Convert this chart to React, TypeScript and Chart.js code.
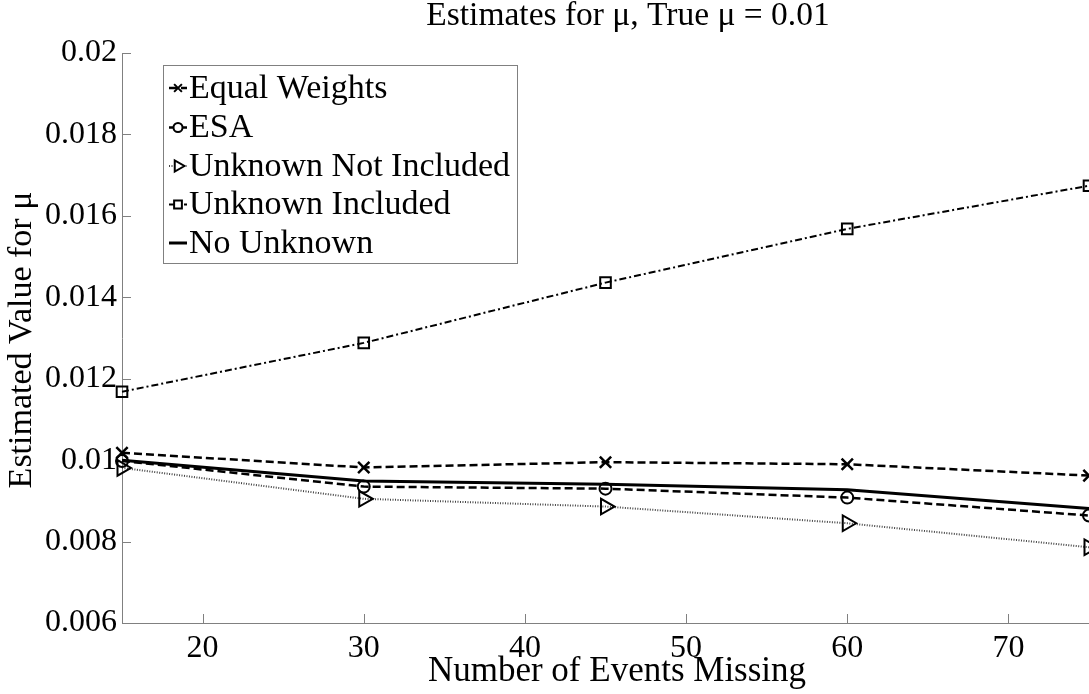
import React, { useEffect, useRef } from 'react';
import { Chart, registerables } from 'chart.js';
import { drawPoint } from 'chart.js/helpers';

Chart.register(...registerables);

const FONT = "'Liberation Serif', 'DejaVu Serif', 'Times New Roman', serif";

const titleText = 'Estimates for \u03bc, True \u03bc = 0.01';
const xTitleText = 'Number of Events Missing';
const yTitleText = 'Estimated Value for \u03bc';

const xValues = [15, 30, 45, 60, 75];
const equalWeights = [0.01018, 0.00982, 0.00995, 0.0099, 0.00962];
const esa = [0.00998, 0.00935, 0.0093, 0.00908, 0.00864];
const unknownNotIncluded = [0.00981, 0.00905, 0.00886, 0.00845, 0.00786];
const unknownIncluded = [0.01168, 0.01288, 0.01436, 0.01568, 0.01674];
const noUnknown = [0.01, 0.00949, 0.00941, 0.00927, 0.00881];

const seriesNames = ['Equal Weights', 'ESA', 'Unknown Not Included', 'Unknown Included', 'No Unknown'];

const xTickValues = [20, 30, 40, 50, 60, 70];
const xTickLabels = ['20', '30', '40', '50', '60', '70'];
const yTickValues = [0.006, 0.008, 0.01, 0.012, 0.014, 0.016, 0.018, 0.02];
const yTickLabels = ['0.006', '0.008', '0.01', '0.012', '0.014', '0.016', '0.018', '0.02'];

const AXIS_COLOR = '#808080';

function pts(ys: number[]) {
  return xValues.map((x, i) => ({ x, y: ys[i] }));
}

const legendMarker: Record<string, number> = { crossRot: 5.5, circle: 4.5, triangle: 6.5, rect: 5.5 };

const decorPlugin = {
  id: 'decor',
  beforeDatasetsDraw(chart: any) {
    const ctx = chart.ctx;
    const xs = chart.scales.x;
    const ys = chart.scales.y;
    const area = chart.chartArea;
    ctx.save();
    ctx.strokeStyle = AXIS_COLOR;
    ctx.lineWidth = 1;
    ctx.beginPath();
    xTickValues.forEach((v) => {
      const px = Math.round(xs.getPixelForValue(v)) + 0.5;
      ctx.moveTo(px, area.bottom);
      ctx.lineTo(px, area.bottom - 9);
    });
    yTickValues.forEach((v) => {
      const py = Math.round(ys.getPixelForValue(v)) + 0.5;
      ctx.moveTo(area.left, py);
      ctx.lineTo(area.left + 9, py);
    });
    ctx.stroke();
    ctx.restore();
  },
  afterDraw(chart: any) {
    const ctx = chart.ctx;
    ctx.save();
    ctx.fillStyle = '#000';
    ctx.textAlign = 'center';
    ctx.textBaseline = 'middle';
    ctx.font = `33.5px ${FONT}`;
    ctx.fillText(titleText, 628, 16);
    ctx.font = `35px ${FONT}`;
    ctx.fillText(xTitleText, 617, 672);
    ctx.font = `34px ${FONT}`;
    ctx.save();
    ctx.translate(22, 340);
    ctx.rotate(-Math.PI / 2);
    ctx.fillText(yTitleText, 0, 0);
    ctx.restore();

    // legend
    const bx = 163.5, by = 65.5, bw = 354, bh = 198;
    ctx.fillStyle = '#fff';
    ctx.fillRect(bx, by, bw, bh);
    ctx.strokeStyle = AXIS_COLOR;
    ctx.lineWidth = 1;
    ctx.strokeRect(bx, by, bw, bh);
    const rows = [88, 127.5, 166, 204.5, 243];
    chart.data.datasets.forEach((ds: any, i: number) => {
      const y = rows[i];
      ctx.save();
      ctx.strokeStyle = ds.borderColor || '#000';
      ctx.lineWidth = ds.borderWidth;
      ctx.setLineDash(ds.borderDash || []);
      ctx.beginPath();
      ctx.moveTo(169, y);
      ctx.lineTo(187, y);
      ctx.stroke();
      ctx.setLineDash([]);
      if (ds.pointRadius > 0) {
        ctx.fillStyle = '#fff';
        ctx.strokeStyle = '#000';
        ctx.lineWidth = 2;
        drawPoint(ctx, {
          pointStyle: ds.pointStyle,
          rotation: ds.pointRotation || 0,
          radius: legendMarker[ds.pointStyle] || 5,
          borderWidth: 2,
        } as any, 178, y);
      }
      ctx.restore();
      ctx.fillStyle = '#000';
      ctx.textAlign = 'left';
      ctx.textBaseline = 'middle';
      ctx.font = `34px ${FONT}`;
      ctx.fillText(seriesNames[i], 189, y + 1);
    });
    ctx.restore();
  },
};

export default function App() {
  const ref = useRef<HTMLCanvasElement | null>(null);
  useEffect(() => {
    if (!ref.current) return;
    const common = {
      borderColor: '#000',
      pointBorderColor: '#000',
      pointBackgroundColor: 'rgba(0,0,0,0)',
      pointBorderWidth: 2,
      tension: 0,
      clip: false as any,
    };
    const chart = new Chart(ref.current, {
      type: 'line',
      data: {
        datasets: [
          { ...common, label: seriesNames[0], data: pts(equalWeights), borderWidth: 2.5, borderDash: [8, 4], pointStyle: 'crossRot', pointRadius: 8, pointBorderWidth: 2.5 },
          { ...common, label: seriesNames[1], data: pts(esa), borderWidth: 2.5, borderDash: [8, 4], pointStyle: 'circle', pointRadius: 6 },
          { ...common, label: seriesNames[2], data: pts(unknownNotIncluded), borderWidth: 2, borderDash: [1, 1.5], borderColor: '#444', pointStyle: 'triangle', pointRotation: 90, pointRadius: 9 },
          { ...common, label: seriesNames[3], data: pts(unknownIncluded), borderWidth: 2, borderDash: [7, 3, 2, 3], pointStyle: 'rect', pointRadius: 7.5 },
          { ...common, label: seriesNames[4], data: pts(noUnknown), borderWidth: 3, borderDash: [], pointStyle: 'circle', pointRadius: 0 },
        ] as any,
      },
      options: {
        responsive: false,
        animation: false,
        devicePixelRatio: 1,
        layout: { padding: { top: 53, right: 51, left: 0, bottom: 0 } },
        plugins: {
          legend: { display: false },
          title: { display: false },
          tooltip: { enabled: false },
        },
        scales: {
          x: {
            type: 'linear',
            min: 15,
            max: 75,
            afterBuildTicks: (s: any) => {
              s.ticks = xTickValues.map((v) => ({ value: v }));
            },
            afterFit: (s: any) => {
              s.height = 71;
            },
            grid: { display: false, drawTicks: false },
            border: { display: true, color: AXIS_COLOR, width: 1 },
            ticks: {
              font: { family: FONT, size: 32 },
              color: '#000',
              padding: 6,
              maxRotation: 0,
              autoSkip: false,
              callback: (v: any) => {
                const i = xTickValues.indexOf(Number(v));
                return i >= 0 ? xTickLabels[i] : '';
              },
            },
          },
          y: {
            type: 'linear',
            min: 0.006,
            max: 0.02,
            afterBuildTicks: (s: any) => {
              s.ticks = yTickValues.map((v) => ({ value: v }));
            },
            afterFit: (s: any) => {
              s.width = 122;
            },
            grid: { display: false, drawTicks: false },
            border: { display: true, color: AXIS_COLOR, width: 1 },
            ticks: {
              font: { family: FONT, size: 32 },
              color: '#000',
              padding: 5,
              autoSkip: false,
              callback: (v: any) => {
                let best = 0;
                yTickValues.forEach((t, i) => {
                  if (Math.abs(t - Number(v)) < Math.abs(yTickValues[best] - Number(v))) best = i;
                });
                return yTickLabels[best];
              },
            },
          },
        },
      } as any,
      plugins: [decorPlugin],
    });
    return () => chart.destroy();
  }, []);
  return (
    <div style={{ position: 'absolute', left: 0, top: 0, width: 1089, height: 694, overflow: 'hidden', background: '#fff' }}>
      <canvas ref={ref} width={1140} height={694} style={{ display: 'block' }} />
    </div>
  );
}
